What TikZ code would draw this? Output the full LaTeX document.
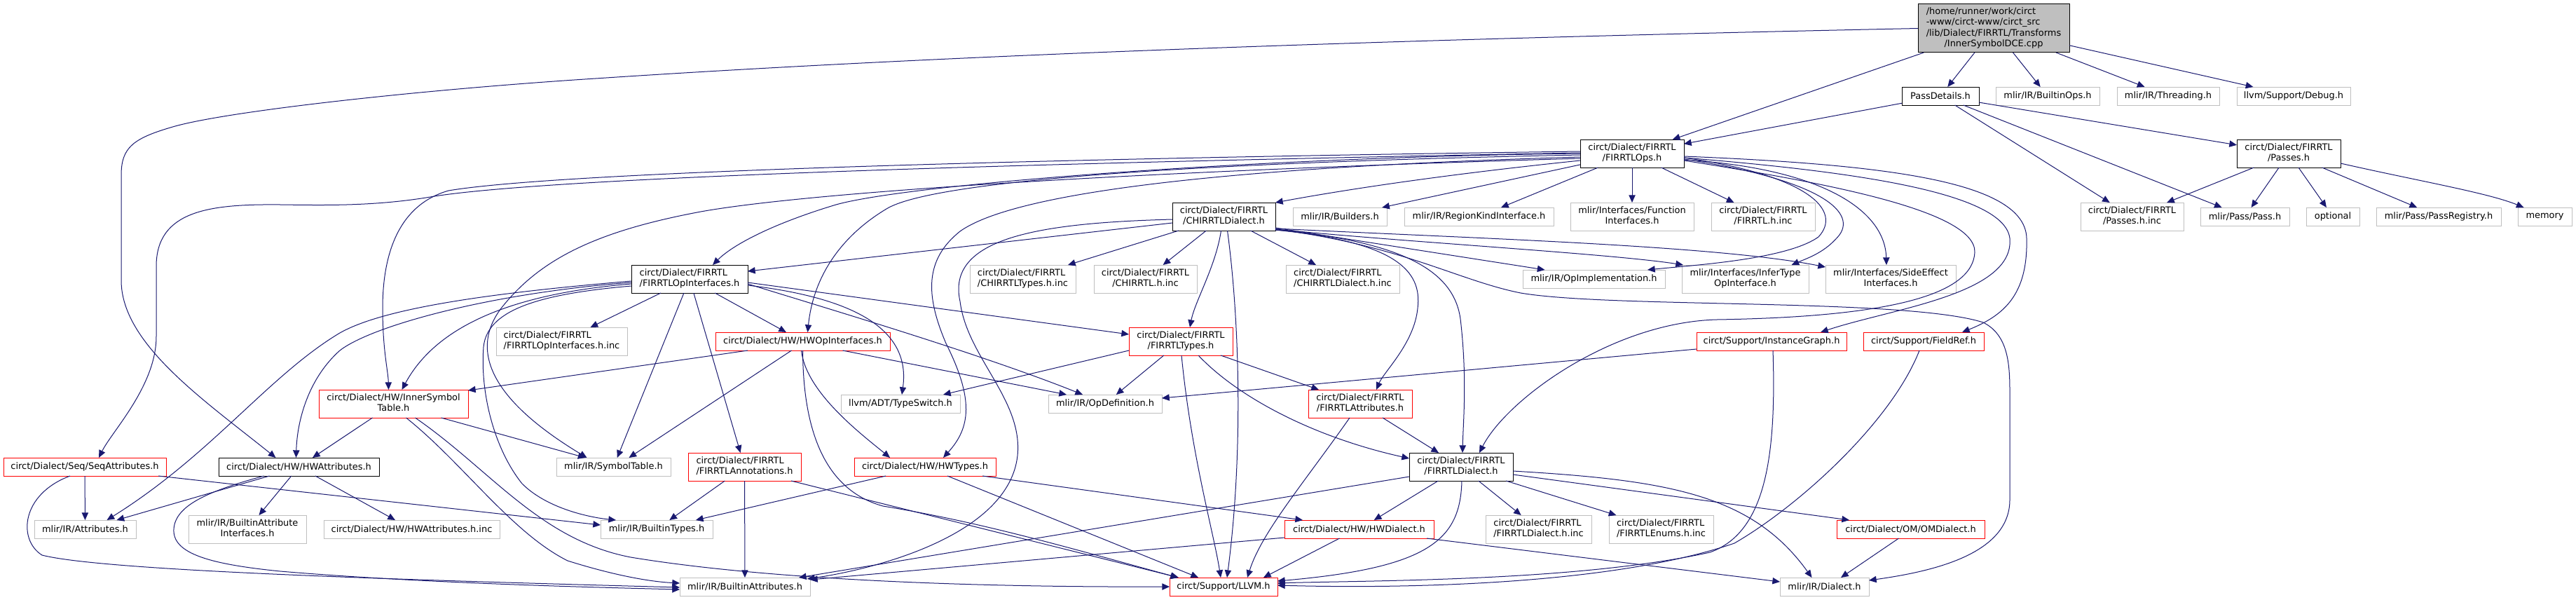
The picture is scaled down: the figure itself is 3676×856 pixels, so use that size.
\documentclass[tikz,border=0pt]{standalone}
\usepackage{fontspec}
\setmainfont{DejaVu Sans}
\usetikzlibrary{arrows.meta,calc}
\definecolor{eblue}{HTML}{191970}
\definecolor{gbord}{HTML}{BFBFBF}
\newcommand\dxfont{\fontsize{9.7}{11.4}\selectfont}
\newcommand\twol[2]{\begin{tabular}{@{}l@{}}#1\\\multicolumn{1}{@{}c@{}}{#2}\end{tabular}}
\newcommand\mknode[7]{\node[#1, minimum width={(#4-#3)*0.75pt}, minimum height={(#6-#5)*0.75pt}] (#2) at ({(#3+#4)/2},{(#5+#6)/2}) {#7};}
\tikzset{
  nbase/.style={rectangle, inner sep=0pt, outer sep=0pt, line width=0.75pt, fill=white, font=\dxfont, text=black},
  nb/.style={nbase, draw=black},
  ng/.style={nbase, draw=gbord},
  nr/.style={nbase, draw=red},
  ntop/.style={nbase, draw=black, fill=gbord},
  e/.style={draw=eblue, line width=0.75pt, -{Triangle[length=8pt,width=7pt]}, color=eblue}
}
\begin{document}
\begin{tikzpicture}[x=0.75pt, y=-0.75pt]
\fill[white] (0,0) rectangle (3676,856);
\useasboundingbox (0,0) rectangle (3676,856);
% nodes
\mknode{ntop}{top}{2737}{2953}{6}{75}{\begin{tabular}{@{}l@{}}/home/runner/work/circt\\-www/circt-www/circt\_src\\/lib/Dialect/FIRRTL/Transforms\\\multicolumn{1}{@{}c@{}}{/InnerSymbolDCE.cpp}\end{tabular}}
\mknode{nb}{pd}{2714}{2824}{124}{150}{PassDetails.h}
\mknode{ng}{bops}{2848}{2996}{124}{150}{mlir/IR/BuiltinOps.h}
\mknode{ng}{thr}{3021}{3167}{124}{150}{mlir/IR/Threading.h}
\mknode{ng}{dbg}{3192}{3354}{124}{150}{llvm/Support/Debug.h}
\mknode{nb}{ops}{2255}{2403}{199}{239}{\twol{circt/Dialect/FIRRTL}{/FIRRTLOps.h}}
\mknode{nb}{passes}{3192}{3340}{199}{239}{\twol{circt/Dialect/FIRRTL}{/Passes.h}}
\mknode{ng}{passinc}{2969}{3116}{289}{329}{\twol{circt/Dialect/FIRRTL}{/Passes.h.inc}}
\mknode{ng}{pass}{3140}{3267}{296}{322}{mlir/Pass/Pass.h}
\mknode{ng}{opt}{3291}{3367}{296}{322}{optional}
\mknode{ng}{preg}{3391}{3569}{296}{322}{mlir/Pass/PassRegistry.h}
\mknode{ng}{mem}{3593}{3670}{296}{322}{memory}
\mknode{nb}{chd}{1673}{1820}{289}{329}{\twol{circt/Dialect/FIRRTL}{/CHIRRTLDialect.h}}
\mknode{ng}{bld}{1845}{1979}{296}{322}{mlir/IR/Builders.h}
\mknode{ng}{rki}{2004}{2217}{296}{322}{mlir/IR/RegionKindInterface.h}
\mknode{ng}{fi}{2241}{2417}{289}{329}{\twol{mlir/Interfaces/Function}{Interfaces.h}}
\mknode{ng}{finc}{2442}{2590}{289}{329}{\twol{circt/Dialect/FIRRTL}{/FIRRTL.h.inc}}
\mknode{nb}{opi}{901}{1067}{378}{418}{\twol{circt/Dialect/FIRRTL}{/FIRRTLOpInterfaces.h}}
\mknode{ng}{cht}{1384}{1535}{378}{418}{\twol{circt/Dialect/FIRRTL}{/CHIRRTLTypes.h.inc}}
\mknode{ng}{chinc}{1561}{1708}{378}{418}{\twol{circt/Dialect/FIRRTL}{/CHIRRTL.h.inc}}
\mknode{ng}{chdinc}{1835}{1997}{378}{418}{\twol{circt/Dialect/FIRRTL}{/CHIRRTLDialect.h.inc}}
\mknode{ng}{oimpl}{2173}{2376}{385}{411}{mlir/IR/OpImplementation.h}
\mknode{ng}{infer}{2400}{2581}{378}{418}{\twol{mlir/Interfaces/InferType}{OpInterface.h}}
\mknode{ng}{side}{2605}{2791}{378}{418}{\twol{mlir/Interfaces/SideEffect}{Interfaces.h}}
\mknode{ng}{opiinc}{708}{895}{467}{507}{\twol{circt/Dialect/FIRRTL}{/FIRRTLOpInterfaces.h.inc}}
\mknode{nr}{hwopi}{1021}{1270}{474}{500}{circt/Dialect/HW/HWOpInterfaces.h}
\mknode{nr}{ftypes}{1611}{1759}{467}{507}{\twol{circt/Dialect/FIRRTL}{/FIRRTLTypes.h}}
\mknode{nr}{ig}{2421}{2635}{474}{500}{circt/Support/InstanceGraph.h}
\mknode{nr}{fref}{2659}{2831}{474}{500}{circt/Support/FieldRef.h}
\mknode{nr}{ist}{455}{668}{556}{596}{\twol{circt/Dialect/HW/InnerSymbol}{Table.h}}
\mknode{ng}{tsw}{1200}{1370}{563}{589}{llvm/ADT/TypeSwitch.h}
\mknode{ng}{odef}{1496}{1658}{563}{589}{mlir/IR/OpDefinition.h}
\mknode{nr}{fattr}{1867}{2015}{556}{596}{\twol{circt/Dialect/FIRRTL}{/FIRRTLAttributes.h}}
\mknode{nr}{seq}{5}{237}{653}{679}{circt/Dialect/Seq/SeqAttributes.h}
\mknode{nb}{hwattr}{312}{541}{653}{679}{circt/Dialect/HW/HWAttributes.h}
\mknode{ng}{symt}{794}{957}{653}{679}{mlir/IR/SymbolTable.h}
\mknode{nr}{fann}{982}{1143}{646}{686}{\twol{circt/Dialect/FIRRTL}{/FIRRTLAnnotations.h}}
\mknode{nr}{hwt}{1219}{1421}{653}{679}{circt/Dialect/HW/HWTypes.h}
\mknode{nb}{fdial}{2011}{2159}{646}{686}{\twol{circt/Dialect/FIRRTL}{/FIRRTLDialect.h}}
\mknode{ng}{attrs}{49}{194}{742}{768}{mlir/IR/Attributes.h}
\mknode{ng}{bai}{269}{437}{735}{775}{\twol{mlir/IR/BuiltinAttribute}{Interfaces.h}}
\mknode{ng}{hwainc}{462}{713}{742}{768}{circt/Dialect/HW/HWAttributes.h.inc}
\mknode{ng}{btypes}{857}{1017}{742}{768}{mlir/IR/BuiltinTypes.h}
\mknode{nr}{hwd}{1833}{2046}{742}{768}{circt/Dialect/HW/HWDialect.h}
\mknode{ng}{fdinc}{2120}{2271}{735}{775}{\twol{circt/Dialect/FIRRTL}{/FIRRTLDialect.h.inc}}
\mknode{ng}{fenum}{2296}{2445}{735}{775}{\twol{circt/Dialect/FIRRTL}{/FIRRTLEnums.h.inc}}
\mknode{nr}{om}{2621}{2832}{742}{768}{circt/Dialect/OM/OMDialect.h}
\mknode{ng}{battr}{970}{1156}{824}{850}{mlir/IR/BuiltinAttributes.h}
\mknode{nr}{llvm}{1669}{1823}{824}{850}{circt/Support/LLVM.h}
\mknode{ng}{dial}{2540}{2667}{824}{850}{mlir/IR/Dialect.h}
% top
\draw[e] (top) -- (pd);
\draw[e] (top) -- (bops);
\draw[e] (top) -- (thr);
\draw[e] (top) -- (dbg);
\draw[e] (top) -- (ops);
\draw[e] (top.west) .. controls (1900,58) and (1300,82) .. (850,112) .. controls (600,128) and (330,158) .. (250,180) .. controls (190,197) and (173,210) .. (173,250) -- (173,400) .. controls (173,490) and (290,570) .. ($(hwattr.north)+(-33,0)$);
% PassDetails
\draw[e] (pd) -- (ops);
\draw[e] (pd) -- (passes);
\draw[e] (pd) -- (passinc);
\draw[e] (pd) -- (pass);
% Passes
\draw[e] (passes) -- (passinc);
\draw[e] (passes) -- (pass);
\draw[e] (passes) -- (opt);
\draw[e] (passes) -- (preg);
\draw[e] ($(passes.east)+(0,14)$) .. controls (3450,258) and (3550,275) .. ($(mem.north)+(-30,0)$);
% FIRRTLOps
\draw[e] ($(ops.west)+(0,10)$) .. controls (2100,245) and (1950,265) .. (chd.north east);
\draw[e] (ops) -- (bld);
\draw[e] (ops) -- (rki);
\draw[e] (ops) -- (fi);
\draw[e] (ops) -- (finc);
\draw[e] ($(ops.east)+(0,6)$) .. controls (2580,250) and (2630,300) .. (2595,338) .. controls (2550,370) and (2420,378) .. ($(oimpl.north east)+(-25,0)$);
\draw[e] ($(ops.east)+(0,8)$) .. controls (2590,255) and (2650,300) .. (2625,335) .. controls (2605,360) and (2580,368) .. ($(infer.north)+(66,0)$);
\draw[e] ($(ops.east)+(0,9)$) .. controls (2600,240) and (2690,300) .. ($(side.north)+(-6,0)$);
\draw[e] ($(ops.east)+(0,4)$) .. controls (2700,235) and (2890,260) .. (2892,340) .. controls (2894,420) and (2860,450) .. ($(fref.north)+(55,0)$);
\draw[e] ($(ops.east)+(0,6)$) .. controls (2650,245) and (2860,275) .. (2868,340) .. controls (2875,420) and (2700,440) .. ($(ig.north east)+(-37,0)$);
\draw[e] ($(ops.east)+(0,10)$) .. controls (2600,260) and (2820,300) .. (2818,360) .. controls (2815,420) and (2700,452) .. (2450,456) .. controls (2300,460) and (2150,570) .. ($(fdial.north)+(26,0)$);
\draw[e] (ops.west) .. controls (1800,224) and (1300,262) .. (1193,292) .. controls (1100,320) and (1045,350) .. ($(opi.north)+(33,0)$);
\draw[e] ($(ops.west)+(0,2)$) .. controls (1700,232) and (1330,258) .. (1265,298) .. controls (1195,340) and (1160,400) .. ($(hwopi.north)+(7,0)$);
\draw[e] ($(ops.west)+(0,5)$) .. controls (1700,240) and (1440,280) .. (1370,330) .. controls (1320,370) and (1320,420) .. (1350,490) .. controls (1390,570) and (1385,610) .. ($(hwt.north)+(26,0)$);
\draw[e] ($(ops.west)+(0,-3)$) .. controls (1500,226) and (800,245) .. (640,272) .. controls (570,292) and (546,360) .. (546,440) .. controls (546,500) and (554,530) .. ($(ist.north)+(-7,0)$);
\draw[e] ($(ops.west)+(0,-1)$) .. controls (1500,232) and (800,252) .. (620,280) .. controls (540,294) and (470,293) .. (400,292) .. controls (300,291) and (223,300) .. (223,380) -- (223,480) .. controls (223,550) and (160,615) .. ($(seq.north)+(20,0)$);
\draw[e] ($(ops.west)+(0,7)$) .. controls (1600,245) and (1150,275) .. (1000,302) .. controls (850,330) and (770,370) .. (715,440) .. controls (670,500) and (700,570) .. ($(symt.north)+(-38,0)$);
% FIRRTLOpInterfaces
\draw[e] (opi) -- (opiinc);
\draw[e] (opi) -- (symt);
\draw[e] (opi) -- (fann);
\draw[e] (opi) -- (hwopi);
\draw[e] ($(opi.east)+(0,7)$) .. controls (1180,440) and (1400,505) .. ($(odef.north)+(-32,0)$);
\draw[e] ($(opi.east)+(0,9)$) .. controls (1220,425) and (1300,470) .. ($(tsw.north)+(2,0)$);
\draw[e] ($(opi.east)+(0,5)$) -- ($(ftypes.west)+(0,-10)$);
\draw[e] ($(opi.west)+(0,7)$) .. controls (720,420) and (620,470) .. ($(ist.north)+(12,0)$);
\draw[e] ($(opi.west)+(0,5)$) .. controls (700,418) and (530,465) .. (485,500) .. controls (440,540) and (424,600) .. ($(hwattr.north)+(-4,0)$);
\draw[e] ($(opi.west)+(0,3)$) .. controls (700,418) and (540,440) .. (480,478) .. controls (380,540) and (300,650) .. ($(attrs.north)+(31,0)$);
\draw[e] ($(opi.west)+(0,10)$) .. controls (760,420) and (695,445) .. (690,495) .. controls (685,560) and (705,640) .. (745,690) .. controls (780,725) and (840,738) .. ($(btypes.north)+(-58,0)$);
% CHIRRTLDialect
\draw[e] ($(chd.west)+(0,9)$) -- ($(opi.east)+(0,-11)$);
\draw[e] (chd) -- (cht);
\draw[e] (chd) -- (chinc);
\draw[e] (chd) -- (chdinc);
\draw[e] ($(chd.south)+(-4,0)$) .. controls (1735,380) and (1705,430) .. ($(ftypes.north)+(13,0)$);
\draw[e] ($(chd.south)+(5,0)$) .. controls (1768,450) and (1775,640) .. ($(llvm.north)+(5,0)$);
\draw[e] ($(chd.west)+(0,4)$) .. controls (1480,318) and (1350,340) .. (1370,430) .. controls (1380,510) and (1460,570) .. (1452,650) .. controls (1440,760) and (1260,810) .. ($(battr.north east)+(-4,2)$);
\draw[e] ($(chd.east)+(0,16)$) -- ($(oimpl.north)+(-70,0)$);
\draw[e] ($(chd.east)+(0,18)$) .. controls (2000,345) and (2300,362) .. ($(infer.north west)+(2,0)$);
\draw[e] ($(chd.east)+(0,17)$) .. controls (2100,340) and (2450,350) .. ($(side.north west)+(0,3)$);
\draw[e] ($(chd.east)+(0,19)$) .. controls (1990,345) and (2030,385) .. (2023,440) .. controls (2018,490) and (1975,530) .. ($(fattr.north)+(23,0)$);
\draw[e] ($(chd.east)+(0,19)$) .. controls (2010,345) and (2075,390) .. (2084,455) .. controls (2094,540) and (2088,600) .. ($(fdial.north)+(2,0)$);
\draw[e] ($(chd.east)+(0,18)$) .. controls (2000,350) and (2080,400) .. (2170,418) .. controls (2300,440) and (2720,425) .. (2830,460) .. controls (2866,478) and (2868,520) .. (2868,560) -- (2868,713) .. controls (2868,790) and (2760,815) .. ($(dial.east)+(0,-9)$);
% HWOpInterfaces
\draw[e] ($(hwopi.south west)+(46,0)$) -- ($(ist.north east)+(0,1)$);
\draw[e] ($(hwopi.south)+(-16,0)$) -- ($(symt.north)+(22,0)$);
\draw[e] ($(hwopi.south)+(-2,0)$) .. controls (1150,560) and (1230,620) .. ($(hwt.north)+(-50,0)$);
\draw[e] (hwopi.south) .. controls (1146,620) and (1180,700) .. (1260,722) .. controls (1400,745) and (1520,780) .. ($(llvm.north west)+(12,0)$);
\draw[e] ($(hwopi.south)+(57,0)$) -- ($(odef.north)+(-55,0)$);
% FIRRTLTypes
\draw[e] ($(ftypes.west)+(0,13)$) -- ($(tsw.north)+(61,0)$);
\draw[e] (ftypes) -- (odef);
\draw[e] ($(ftypes.south)+(1,0)$) .. controls (1700,650) and (1732,760) .. ($(llvm.north)+(-4,0)$);
\draw[e] ($(ftypes.south)+(25,0)$) .. controls (1770,570) and (1880,625) .. ($(fdial.west)+(0,-12)$);
\draw[e] ($(ftypes.south east)+(-17,0)$) -- ($(fattr.north west)+(15,0)$);
% InstanceGraph, FieldRef
\draw[e] ($(ig.west)+(0,11)$) -- ($(odef.east)+(0,-8)$);
\draw[e] ($(ig.south)+(2,0)$) .. controls (2535,650) and (2520,760) .. (2440,788) .. controls (2250,830) and (1950,828) .. ($(llvm.east)+(0,-5)$);
\draw[e] ($(fref.south)+(-6,0)$) .. controls (2700,600) and (2570,720) .. (2475,775) .. controls (2300,835) and (2000,840) .. ($(llvm.east)+(0,-2)$);
% InnerSymbolTable
\draw[e] (ist) -- (hwattr);
\draw[e] ($(ist.south)+(68,0)$) -- ($(symt.north)+(-40,0)$);
\draw[e] ($(ist.south)+(18,0)$) .. controls (660,660) and (730,760) .. (810,800) .. controls (880,822) and (930,830) .. ($(battr.west)+(0,-5)$);
\draw[e] ($(ist.south)+(31,0)$) .. controls (700,670) and (770,770) .. (900,795) .. controls (1100,828) and (1400,838) .. (llvm.west);
% SeqAttributes
\draw[e] (seq) -- (attrs);
\draw[e] ($(seq.south east)+(-11,0)$) -- ($(btypes.west)+(0,-6)$);
\draw[e] ($(seq.south)+(-21,0)$) .. controls (30,705) and (25,770) .. (60,792) .. controls (150,815) and (600,828) .. ($(battr.west)+(0,1)$);
% HWAttributes
\draw[e] ($(hwattr.south)+(-42,0)$) -- ($(attrs.north)+(45,0)$);
\draw[e] ($(hwattr.south)+(-50,0)$) .. controls (300,700) and (250,720) .. (248,755) .. controls (246,790) and (300,805) .. (400,815) .. controls (600,832) and (850,838) .. ($(battr.west)+(0,4)$);
\draw[e] (hwattr) -- (bai);
\draw[e] (hwattr) -- (hwainc);
% FIRRTLAnnotations
\draw[e] (fann) -- (btypes);
\draw[e] (fann) -- (battr);
\draw[e] ($(fann.south east)+(-14,0)$) -- ($(llvm.north west)+(13,0)$);
% HWTypes
\draw[e] (hwt) -- (btypes);
\draw[e] ($(hwt.south)+(32,0)$) -- ($(llvm.north)+(-36,0)$);
\draw[e] ($(hwt.south east)+(-19,0)$) -- ($(hwd.north west)+(26,0)$);
% FIRRTLAttributes
\draw[e] ($(fattr.south)+(-15,0)$) .. controls (1860,690) and (1800,760) .. ($(llvm.north)+(34,0)$);
\draw[e] (fattr) -- (fdial);
% FIRRTLDialect
\draw[e] ($(fdial.west)+(0,14)$) -- ($(battr.north east)+(-16,0)$);
\draw[e] (fdial) -- (hwd);
\draw[e] ($(fdial.south)+(1,0)$) .. controls (2084,770) and (2040,810) .. ($(llvm.east)+(0,-8)$);
\draw[e] (fdial) -- (fdinc);
\draw[e] (fdial) -- (fenum);
\draw[e] ($(fdial.east)+(0,11)$) -- ($(om.north west)+(18,0)$);
\draw[e] ($(fdial.east)+(0,6)$) .. controls (2380,685) and (2500,705) .. ($(dial.north)+(-18,0)$);
% HWDialect, OMDialect
\draw[e] ($(hwd.south west)+(0,-1)$) -- ($(battr.east)+(0,-10)$);
\draw[e] ($(hwd.south)+(-28,0)$) -- ($(llvm.north east)+(-20,0)$);
\draw[e] ($(hwd.south east)+(-10,0)$) -- ($(dial.west)+(0,-7)$);
\draw[e] ($(om.south)+(-17,0)$) -- ($(dial.north east)+(-40,0)$);
\end{tikzpicture}
\end{document}
